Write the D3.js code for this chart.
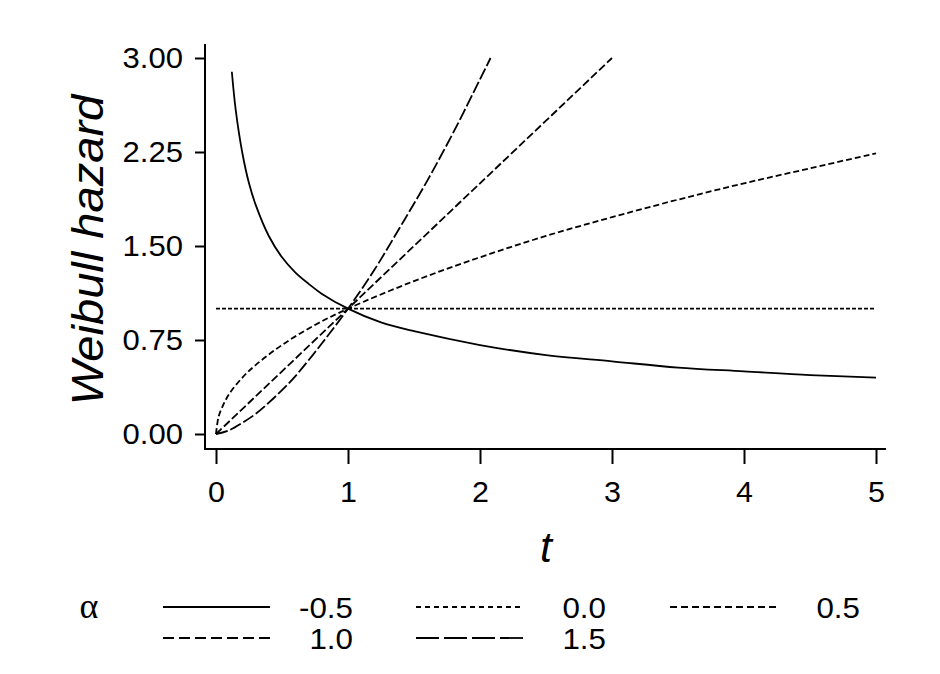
<!DOCTYPE html>
<html>
<head>
<meta charset="utf-8">
<script src="https://cdn.jsdelivr.net/npm/d3@7"></script>
<style>
  body { margin: 0; background: #fff; }
  text { font-family: "Liberation Sans", Arial, sans-serif; fill: #000; }
</style>
</head>
<body>
<svg id="chart" width="940" height="674"></svg>
<script>
// values
const alphaLabels = ['-0.5', '0.0', '0.5', '1.0', '1.5']

const tNeg05 = [0.12, 0.15, 0.2, 0.25, 0.3, 0.4, 0.5, 0.6, 0.7, 0.8, 1.0, 1.25, 1.5, 2, 2.5, 3, 3.5, 4, 4.5, 5]
const hNeg05 = [2.89, 2.58, 2.24, 2.00, 1.83, 1.58, 1.41, 1.29, 1.20, 1.12, 1.00, 0.89, 0.82, 0.71, 0.63, 0.58, 0.53, 0.50, 0.47, 0.45]

const tZero = [0, 5]
const hZero = [1.00, 1.00]

const tHalf = [0, 0.02, 0.05, 0.1, 0.2, 0.3, 0.5, 0.75, 1, 1.5, 2, 2.5, 3, 3.5, 4, 4.5, 5]
const hHalf = [0, 0.14, 0.22, 0.32, 0.45, 0.55, 0.71, 0.87, 1.00, 1.22, 1.41, 1.58, 1.73, 1.87, 2.00, 2.12, 2.24]

const tOne = [0, 1, 2, 3]
const hOne = [0, 1.00, 2.00, 3.00]

const tOneHalf = [0, 0.1, 0.2, 0.3, 0.4, 0.5, 0.6, 0.8, 1.0, 1.2, 1.4, 1.6, 1.8, 2.0, 2.08]
const hOneHalf = [0, 0.03, 0.09, 0.16, 0.25, 0.35, 0.46, 0.72, 1.00, 1.31, 1.66, 2.02, 2.41, 2.83, 3.00]

const xTicks = [0, 1, 2, 3, 4, 5]
const yTicks = [0, 0.75, 1.5, 2.25, 3]

const series = [
  { label: alphaLabels[0], t: tNeg05, h: hNeg05 },
  { label: alphaLabels[1], t: tZero, h: hZero },
  { label: alphaLabels[2], t: tHalf, h: hHalf },
  { label: alphaLabels[3], t: tOne, h: hOne },
  { label: alphaLabels[4], t: tOneHalf, h: hOneHalf }
]

// line styles: plot and legend dash patterns
const plotDash = [null, '4,2', '6,3', '8,3', '12,3']
const legendDash = [null, '5,4', '7,4', '11,5', '23,5']

let svg = d3.select('#chart')

let x = d3.scaleLinear().domain([0, 5]).range([216, 876])
let y = d3.scaleLinear().domain([0, 3]).range([434, 58])

// stretch text a bit horizontally, like the original renderer
function stretch(sel, k) {
  sel.each(function () {
    let w = this.getComputedTextLength()
    d3.select(this).attr('textLength', w * k).attr('lengthAdjust', 'spacingAndGlyphs')
  })
}

// axes
let xAxis = svg.append('g')
  .attr('transform', 'translate(0,449)')
  .call(d3.axisBottom(x).tickValues(xTicks).tickFormat(d3.format('d')).tickSize(15).tickPadding(17))
xAxis.select('.domain').remove()
xAxis.selectAll('line').attr('stroke-width', 2)
xAxis.selectAll('text').attr('font-size', 29).attr('font-family', null)
  .attr('dy', '0.71em').call(stretch, 1.05)

let yAxis = svg.append('g')
  .attr('transform', 'translate(205,0)')
  .call(d3.axisLeft(y).tickValues(yTicks).tickFormat(d3.format('.2f')).tickSize(10).tickPadding(12))
yAxis.select('.domain').remove()
yAxis.selectAll('line').attr('stroke-width', 2)
yAxis.selectAll('text').attr('font-size', 29).attr('font-family', null).call(stretch, 1.07)

svg.append('path')
  .attr('d', 'M205,44V449H886')
  .attr('fill', 'none')
  .attr('stroke', '#000')
  .attr('stroke-width', 2)

// axis titles
svg.append('text')
  .attr('transform', 'translate(103,250) rotate(-90)')
  .attr('text-anchor', 'middle')
  .attr('font-size', 44)
  .attr('font-style', 'italic')
  .text('Weibull hazard')
  .call(stretch, 1.07)

svg.append('text')
  .attr('x', 546)
  .attr('y', 562)
  .attr('text-anchor', 'middle')
  .attr('font-size', 43)
  .attr('font-style', 'italic')
  .text('t')

// curves
let line = d3.line()
  .x(d => x(d[0]))
  .y(d => y(d[1]))
  .curve(d3.curveCatmullRom.alpha(0.5))

svg.append('g')
  .selectAll('path')
  .data(series)
  .enter().append('path')
  .attr('d', s => line(s.t.map((t, i) => [t, s.h[i]])))
  .attr('fill', 'none')
  .attr('stroke', '#000')
  .attr('stroke-width', 1.8)
  .attr('stroke-dasharray', (s, i) => plotDash[i])

// legend
svg.append('text')
  .attr('x', 89)
  .attr('y', 618)
  .attr('text-anchor', 'middle')
  .attr('font-size', 36)
  .style('font-family', '"Liberation Serif", "DejaVu Serif", serif')
  .text('α')

let legendCols = [163, 416, 670]
let legendRows = [607, 638]
let legend = svg.append('g')
  .selectAll('g')
  .data(series)
  .enter().append('g')
  .attr('transform', (s, i) => 'translate(' + legendCols[i % 3] + ',' + legendRows[Math.floor(i / 3)] + ')')

legend.append('line')
  .attr('x1', 0)
  .attr('x2', 107)
  .attr('stroke', '#000')
  .attr('stroke-width', 1.8)
  .attr('stroke-dasharray', (s, i) => legendDash[i])

legend.append('text')
  .attr('x', 190)
  .attr('y', 11)
  .attr('text-anchor', 'end')
  .attr('font-size', 29)
  .text(s => s.label)
  .call(stretch, 1.08)
</script>
</body>
</html>
